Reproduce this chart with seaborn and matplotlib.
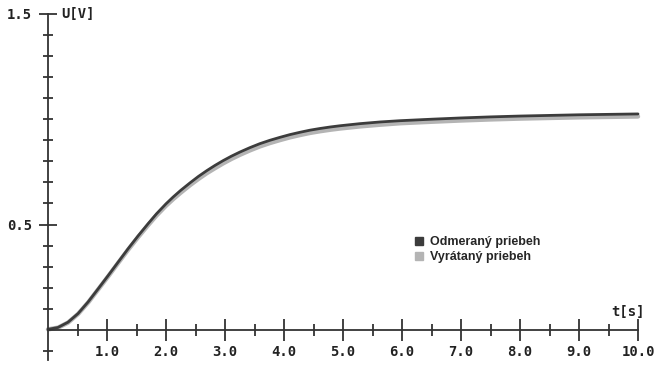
import numpy as np
import pandas as pd
import matplotlib
matplotlib.use("Agg")
import matplotlib.pyplot as plt
from matplotlib.lines import Line2D
import seaborn as sns

t = [0, 0.17, 0.34, 0.51, 0.68, 0.85, 1.02, 1.19, 1.36, 1.53, 1.7, 1.84, 2.0, 2.12,
     2.25, 2.41, 2.55, 2.69, 2.83, 2.97, 3.11, 3.25, 3.42, 3.59, 3.76, 3.93, 4.1, 4.27,
     4.44, 4.61, 4.78, 4.95, 5.29, 5.63, 5.97, 6.5, 7.0, 7.5, 8.0, 8.5, 9.0, 9.5, 10.0]
measured = [0.003, 0.012, 0.037, 0.078, 0.133, 0.195, 0.258, 0.322, 0.386, 0.447, 0.505,
            0.551, 0.598, 0.63, 0.662, 0.698, 0.728, 0.755, 0.78, 0.803, 0.824, 0.843,
            0.864, 0.883, 0.899, 0.913, 0.926, 0.937, 0.947, 0.955, 0.962, 0.968, 0.978,
            0.986, 0.992, 0.999, 1.005, 1.01, 1.014, 1.017, 1.02, 1.022, 1.024]
computed = [0.003, 0.011, 0.035, 0.076, 0.13, 0.192, 0.254, 0.318, 0.381, 0.441, 0.498,
            0.543, 0.589, 0.62, 0.651, 0.687, 0.716, 0.743, 0.767, 0.79, 0.811, 0.83,
            0.851, 0.87, 0.886, 0.9, 0.913, 0.924, 0.934, 0.942, 0.949, 0.955, 0.965,
            0.973, 0.98, 0.987, 0.993, 0.998, 1.002, 1.005, 1.008, 1.01, 1.012]
labels = ["Odmeraný priebeh", "Vyrátaný priebeh"]
colors = ["#3c3c3c", "#b4b4b4"]

df = pd.DataFrame({"t": t * 2,
                   "u": measured + computed,
                   "serie": [labels[0]] * len(t) + [labels[1]] * len(t)})

sns.set_style("white")
fig = plt.figure(figsize=(6.65, 3.66), dpi=100)
ax = fig.add_axes([0, 0, 1, 1])

sns.lineplot(data=df[df.serie == labels[1]], x="t", y="u", color=colors[1], lw=3.2, ax=ax)
sns.lineplot(data=df[df.serie == labels[0]], x="t", y="u", color=colors[0], lw=2.0, ax=ax)

# pixel mapping: x=0 at 48px, 59 px per second; y=0 at 330px from top, 211 px per volt
ax.set_xlim(-48 / 59, (665 - 48) / 59)
ax.set_ylim(-(366 - 330) / 211, 330 / 211)

axc = "#333333"
for s in ["top", "right"]:
    ax.spines[s].set_visible(False)
ax.spines["left"].set_position(("data", 0))
ax.spines["bottom"].set_position(("data", 0))
ax.spines["left"].set_bounds(-0.14, 1.5)
ax.spines["bottom"].set_bounds(0, 10)
for s in ["left", "bottom"]:
    ax.spines[s].set_color(axc)
    ax.spines[s].set_linewidth(1.3)

mono = dict(family="DejaVu Sans Mono", weight="bold", size=10, color="#222222")

ax.set_xticks(np.arange(1, 11))
ax.set_xticklabels([f"{v:.1f}" for v in range(1, 11)], fontdict=mono)
ax.set_xticks(np.arange(0.5, 10, 1.0), minor=True)
ax.set_yticks([0.5, 1.5])
ax.set_yticklabels(["0.5", "1.5"], fontdict=mono)
ax.set_yticks([v / 10 for v in range(-1, 15) if v not in (0, 5)], minor=True)

ax.tick_params(which="both", bottom=True, left=True)
ax.tick_params(axis="x", which="major", direction="inout", length=16, width=1.3, color=axc, pad=3)
ax.tick_params(axis="x", which="minor", direction="inout", length=8, width=1.3, color=axc)
ax.tick_params(axis="y", which="major", direction="inout", length=13, width=1.3, color=axc, pad=5)
ax.tick_params(axis="y", which="minor", direction="inout", length=7, width=1.3, color=axc)
ax.set_xlabel("")
ax.set_ylabel("")

ax.text(0.22, 1.5, "U[V]", ha="left", va="center", **mono)
ax.text(9.55, 0.085, "t[s]", ha="left", va="center", **mono)

handles = [Line2D([], [], ls="none", marker="s", ms=6, color=c) for c in colors]
ax.legend(handles, labels, loc="upper left", bbox_to_anchor=(409 / 665, 1 - 231 / 366),
          frameon=False, handlelength=0.8, handletextpad=0.5, labelspacing=0.25,
          borderaxespad=0, prop=dict(family="Liberation Sans", weight="bold", size=9))

fig.savefig("out.png", dpi=100)
